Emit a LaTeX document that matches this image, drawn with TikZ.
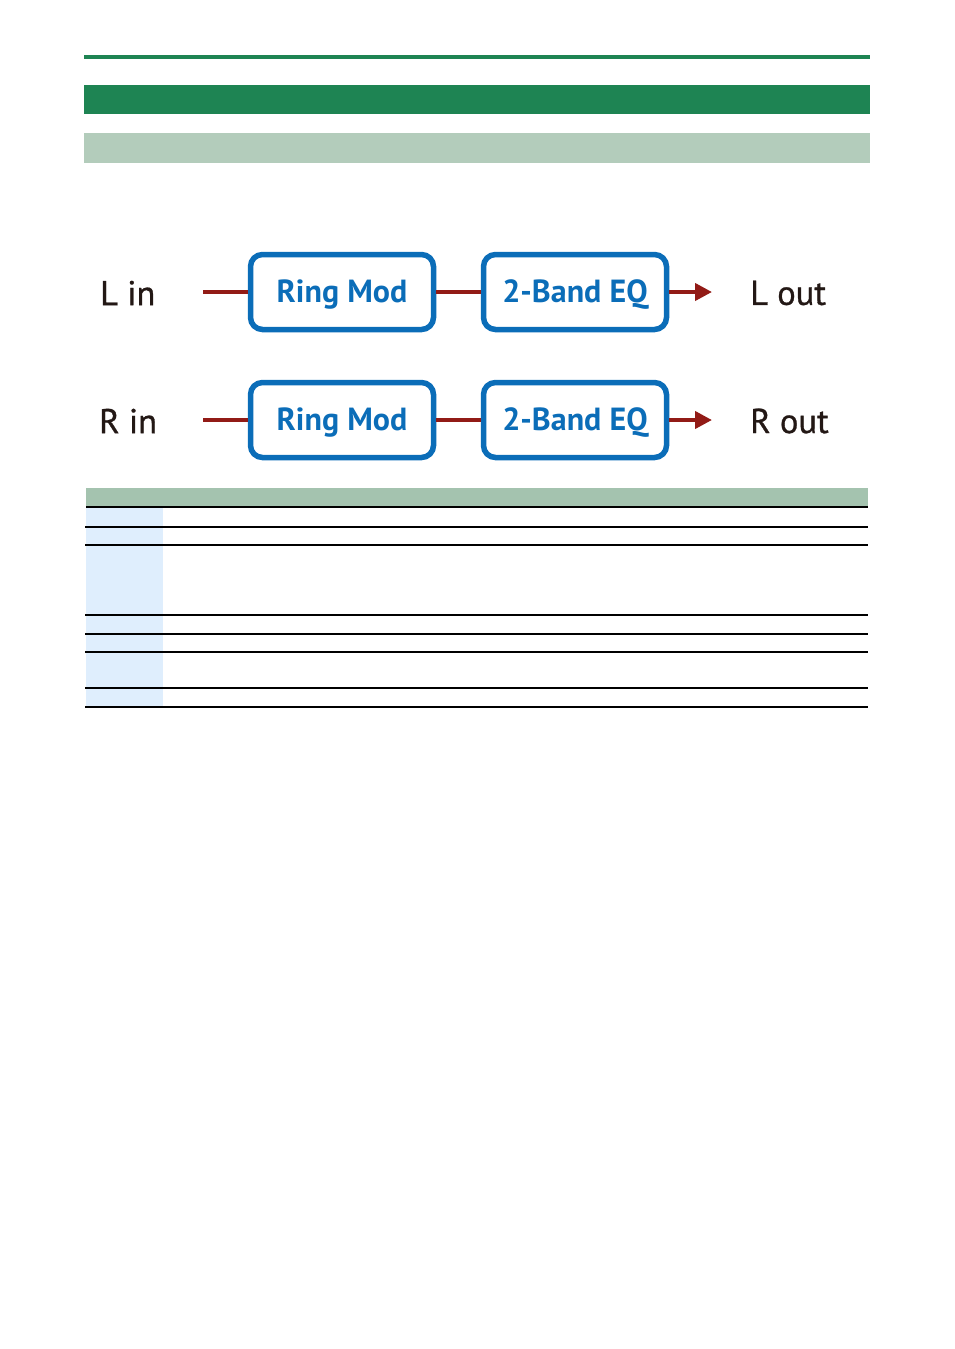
\documentclass[tikz,border=0pt]{standalone}
\usepackage{fontspec}
\setmainfont{PT Sans}
\newfontfamily\iofont[FakeBold=0.8]{PT Sans}
\usetikzlibrary{arrows.meta}
\definecolor{dgreen}{HTML}{1E8453}
\definecolor{lgreen}{HTML}{B3CCBB}
\definecolor{hgreen}{HTML}{A4C3AF}
\definecolor{lblue}{HTML}{DFEEFD}
\definecolor{fxblue}{HTML}{0B6DB8}
\definecolor{sigred}{HTML}{921B16}
\definecolor{txt}{HTML}{231815}
\newcommand{\fxlabel}[1]{\raisebox{-2.5pt}[\height][\depth]{#1}}
\begin{document}
\begin{tikzpicture}[x=1pt,y=-1pt,
  fxbox/.style={draw=fxblue,line width=5.5pt,rounded corners=12pt,minimum width=183pt,minimum height=75pt,inner sep=0pt,text=fxblue,font=\fontsize{32}{32}\selectfont\bfseries},
  io/.style={text=txt,font=\iofont\fontsize{34.5}{34.5}\selectfont,inner sep=0pt},
  sig/.style={draw=sigred,line width=4pt},
  sigarrow/.style={sig,-{Triangle[length=17pt,width=17pt]}},
  rowline/.style={line width=1.2pt,black}]
\useasboundingbox (0,0) rectangle (954,1349);
% header bars
\fill[dgreen] (84,55) rectangle (870,59);
\fill[dgreen] (84,85) rectangle (870,114);
\fill[lgreen] (84,133) rectangle (870,163);
% row L
\node[io,anchor=west] (lin) at (100,293) {L in};
\node[fxbox] (rm1) at (342,292) {\fxlabel{Ring Mod}};
\node[fxbox] (eq1) at (575,292) {\fxlabel{2-Band EQ}};
\node[io,anchor=west] (lout) at (750,293) {L out};
\coordinate (lst) at (203,292);
\coordinate (lend) at (712,292);
\draw[sig] (lst) -- (rm1.west);
\draw[sig] (rm1.east) -- (eq1.west);
\draw[sigarrow] (eq1.east) -- (lend);
% row R
\node[io,anchor=west] (rin) at (99,421) {R in};
\node[fxbox] (rm2) at (342,420) {\fxlabel{Ring Mod}};
\node[fxbox] (eq2) at (575,420) {\fxlabel{2-Band EQ}};
\node[io,anchor=west] (rout) at (750,421) {R out};
\coordinate (rst) at (203,420);
\coordinate (rend) at (712,420);
\draw[sig] (rst) -- (rm2.west);
\draw[sig] (rm2.east) -- (eq2.west);
\draw[sigarrow] (eq2.east) -- (rend);
% table
\fill[hgreen] (86,488) rectangle (868,506);
\fill[lblue] (86,508) rectangle (163,707);
\draw[line width=2.5pt] (86,507) -- (868,507);
\foreach \yy in {527,545,615,634,652,688,707}
  \draw[rowline] (85,\yy) -- (868,\yy);
\end{tikzpicture}
\end{document}
